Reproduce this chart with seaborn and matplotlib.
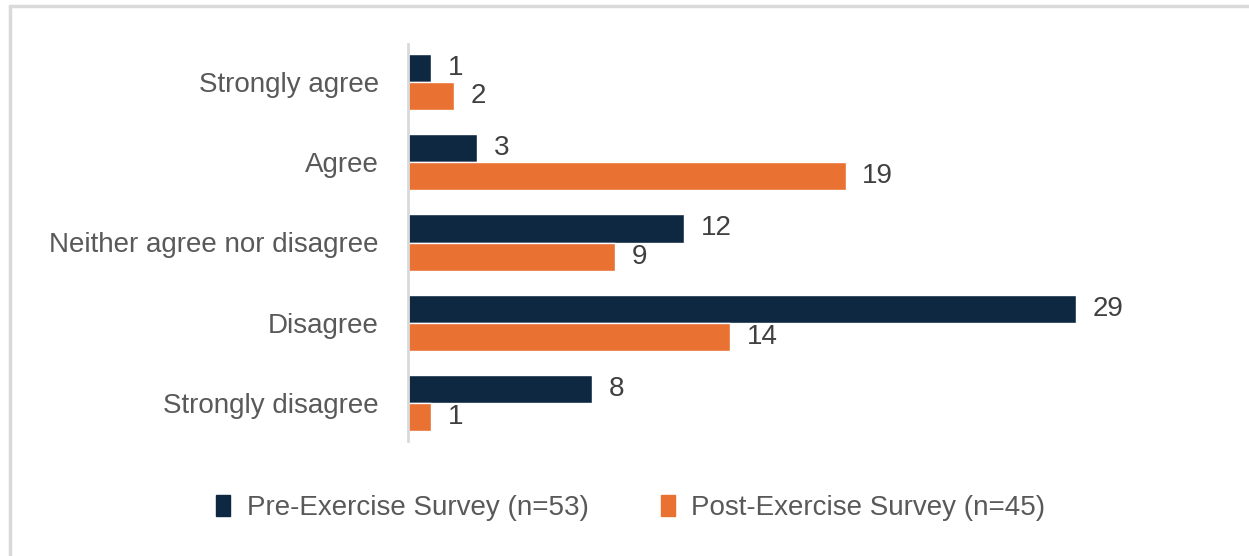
import matplotlib
matplotlib.use("Agg")
import matplotlib.pyplot as plt
import seaborn as sns
import pandas as pd
from matplotlib.lines import Line2D
from matplotlib.patches import Patch

categories = ["Strongly agree", "Agree", "Neither agree nor disagree", "Disagree", "Strongly disagree"]
series_names = ["Pre-Exercise Survey (n=53)", "Post-Exercise Survey (n=45)"]
pre_values = [1, 3, 12, 29, 8]
post_values = [2, 19, 9, 14, 1]
colors = ["#0E2841", "#E97132"]

df = pd.DataFrame({
    "Response": categories * 2,
    "Survey": [series_names[0]] * len(categories) + [series_names[1]] * len(categories),
    "Count": pre_values + post_values,
})

sns.set_style("white")
plt.rcParams["font.family"] = ["Liberation Sans", "DejaVu Sans"]

W, H = 1249, 556
fig = plt.figure(figsize=(W / 100, H / 100), dpi=100)
ax = fig.add_axes([408 / W, 1 - 441 / H, (1145 - 408) / W, (441 - 44) / H])

sns.barplot(data=df, y="Response", x="Count", hue="Survey", order=categories,
            hue_order=series_names, palette=colors, orient="h", width=0.7,
            saturation=1, ax=ax, legend=False)

for cont in ax.containers:
    ax.bar_label(cont, padding=12, fontsize=20, color="#404040")

ax.set_xlim(0, 32)
ax.set_ylim(4.475, -0.475)
ax.set_xlabel("")
ax.set_ylabel("")
ax.set_xticks([])
for s in ["top", "right", "bottom"]:
    ax.spines[s].set_visible(False)
ax.spines["left"].set_color("#D9D9D9")
ax.spines["left"].set_linewidth(2)
ax.tick_params(axis="y", length=0, pad=21, labelsize=20, labelcolor="#595959")

handles = [Patch(facecolor=c, edgecolor=c) for c in colors]
fig.legend(handles, series_names, loc="center", bbox_to_anchor=(0.505, 1 - 508 / H),
           ncol=2, frameon=False, fontsize=20, labelcolor="#595959",
           handlelength=0.5, handleheight=0.8, handletextpad=0.6, columnspacing=2.6)

# partial frame (top and left)
fig.add_artist(Line2D([9.5 / W, 9.5 / W], [0, 1 - 5.5 / H], transform=fig.transFigure,
                      color="#D9D9D9", linewidth=2.5))
fig.add_artist(Line2D([9.5 / W, 1], [1 - 5.5 / H, 1 - 5.5 / H], transform=fig.transFigure,
                      color="#D9D9D9", linewidth=2.5))

fig.savefig("out.png", dpi=100)
